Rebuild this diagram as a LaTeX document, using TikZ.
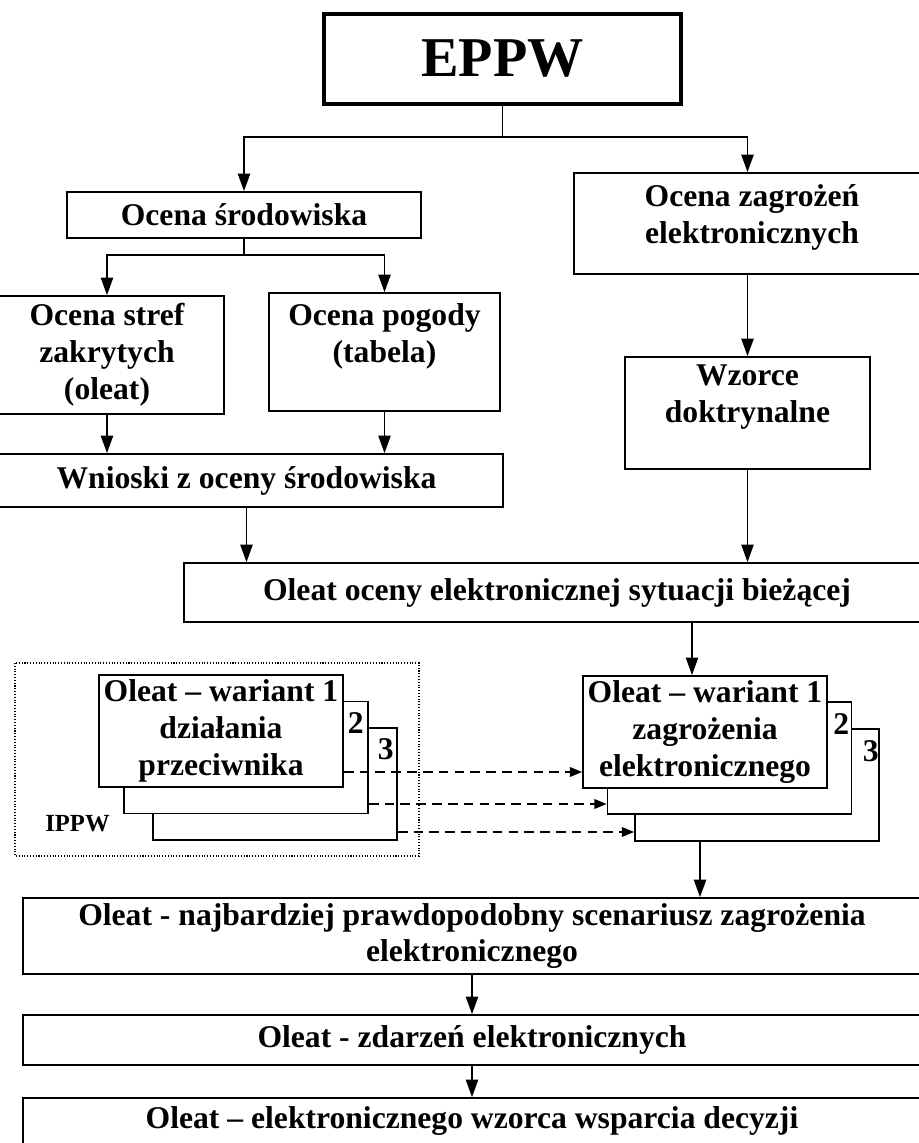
\documentclass[tikz,border=0pt]{standalone}
\usepackage{fontspec}
\setmainfont{Liberation Serif}
\usetikzlibrary{arrows.meta}

\begin{document}
\begin{tikzpicture}[x=0.02cm, y=-0.02cm, >={Triangle[length=10pt, width=7pt]},
    box/.style={draw, line width=1pt, fill=white, inner sep=1pt, align=center, font=\bfseries\fontsize{18}{21}\selectfont},
    txt/.style={inner sep=0pt, align=center, font=\bfseries\fontsize{18}{21}\selectfont},
    num/.style={inner sep=0pt, font=\bfseries\fontsize{18}{21}\selectfont},
    link/.style={line width=0.9pt, ->},
    dlink/.style={line width=0.9pt, dash pattern=on 5.5pt off 3.5pt, -{Triangle[length=7pt, width=5.5pt]}}]
  \useasboundingbox (0,0) rectangle (919,1143);

  % Korzeń
  \node[box, line width=2.2pt, minimum width=7.14cm, minimum height=1.8cm, font=\bfseries\fontsize{32}{36}\selectfont] (eppw) at (502.5,59) {EPPW};

  % Gałąź środowiska
  \node[box, minimum width=7.08cm, minimum height=0.92cm] (srod) at (244,215) {Ocena środowiska};
  \node[box, minimum width=4.68cm, minimum height=2.36cm] (stref) at (107,355) {Ocena stref\\zakrytych\\(oleat)};
  \node[box, minimum width=4.62cm, minimum height=2.36cm] (pogoda) at (384.5,352) {};
  \node[txt] (pogodaT) at (384.5,336.5) {Ocena pogody\\(tabela)};
  \node[box, minimum width=10.26cm, minimum height=1.06cm] (wnioski) at (246.5,480.5) {Wnioski z oceny środowiska};

  % Gałąź zagrożeń
  \node[box, minimum width=7.12cm, minimum height=2.02cm] (zagr) at (752,223.5) {};
  \node[txt] (zagrT) at (752,217) {Ocena zagrożeń\\elektronicznych};
  \node[box, minimum width=4.9cm, minimum height=2.24cm] (wzorce) at (747.5,413) {};
  \node[txt] (wzorceT) at (747.5,397) {Wzorce\\doktrynalne};

  \node[box, minimum width=14.92cm, minimum height=1.18cm] (oceny) at (557,592.5) {Oleat oceny elektronicznej sytuacji bieżącej};

  % Warianty przeciwnika (IPPW)
  \draw[densely dotted, line width=0.6pt] (15,663) rectangle (419,856);
  \node[box, minimum width=4.88cm, minimum height=2.24cm] (L3) at (275,784) {};
  \node[box, minimum width=4.88cm, minimum height=2.24cm] (L2) at (246,757.5) {};
  \node[box, minimum width=4.88cm, minimum height=2.24cm] (L1) at (221,731) {Oleat -- wariant 1\\działania\\przeciwnika};
  \node[num] (L2n) at ([xshift=-0.26cm, yshift=-0.44cm]L2.north east) {2};
  \node[num] (L3n) at ([xshift=-0.24cm, yshift=-0.44cm]L3.north east) {3};
  \node[inner sep=0pt, font=\bfseries\fontsize{14}{17}\selectfont] (ippw) at (77.5,824) {IPPW};

  % Warianty zagrożenia
  \node[box, minimum width=4.88cm, minimum height=2.24cm] (R3) at (757,785) {};
  \node[box, minimum width=4.88cm, minimum height=2.24cm] (R2) at (729.5,758) {};
  \node[box, minimum width=4.88cm, minimum height=2.24cm] (R1) at (705,732) {Oleat -- wariant 1\\zagrożenia\\elektronicznego};
  \node[num] (R2n) at ([xshift=-0.22cm, yshift=-0.46cm]R2.north east) {2};
  \node[num] (R3n) at ([xshift=-0.18cm, yshift=-0.46cm]R3.north east) {3};

  % Dolne poziomy
  \node[box, minimum width=17.96cm, minimum height=1.52cm] (scen) at (472,936) {Oleat - najbardziej prawdopodobny scenariusz zagrożenia\\elektronicznego};
  \node[box, minimum width=17.96cm, minimum height=1cm] (zdarz) at (472,1040) {Oleat - zdarzeń elektronicznych};
  \node[box, minimum width=17.96cm, minimum height=0.94cm] (wsparcie) at (472,1121.5) {Oleat -- elektronicznego wzorca wsparcia decyzji};

  % Połączenia
  \coordinate (split) at (502.5,137);
  \draw[line width=0.9pt] (eppw.south) -- (split);
  \draw[link] (split) -| (srod.north);
  \draw[link] (split) -| (wzorce.north |- zagr.north);

  \coordinate (srodSplit) at (244,255);
  \draw[line width=0.9pt] (srod.south) -- (srodSplit);
  \draw[link] (srodSplit) -| (stref.north);
  \draw[link] (srodSplit) -| (pogoda.north);
  \draw[link] (stref.south) -- (stref.south |- wnioski.north);
  \draw[link] (pogoda.south) -- (pogoda.south |- wnioski.north);
  \draw[link] (wnioski.south) -- (wnioski.south |- oceny.north);

  \draw[link] (wzorce.north |- zagr.south) -- (wzorce.north);
  \draw[link] (wzorce.south) -- (wzorce.south |- oceny.north);

  \coordinate (R1in) at ([xshift=-0.26cm]R1.north);
  \draw[link] (R1in |- oceny.south) -- (R1in);

  \coordinate (d1) at ([yshift=-0.82cm]L1.east);
  \coordinate (d2) at ([yshift=-0.93cm]L2.east);
  \coordinate (d3) at ([yshift=-0.96cm]L3.east);
  \draw[dlink] (d1) -- (d1 -| R1.west);
  \draw[dlink] (d2) -- (d2 -| R2.west);
  \draw[dlink] (d3) -- (d3 -| R3.west);

  \coordinate (R3out) at ([xshift=-1.14cm]R3.south);
  \draw[link] (R3out) -- (R3out |- scen.north);
  \draw[link] (scen.south) -- (zdarz.north);
  \draw[link] (zdarz.south) -- (wsparcie.north);
\end{tikzpicture}
\end{document}
